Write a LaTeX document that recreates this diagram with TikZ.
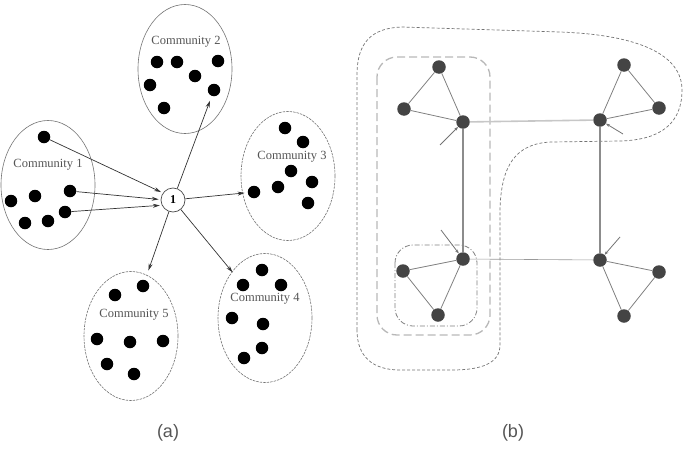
\documentclass[tikz,border=0pt]{standalone}
\usepackage{fontspec}
\setmainfont{Liberation Serif}
\newfontfamily\lsans{Liberation Sans}
\usetikzlibrary{arrows.meta,shapes.geometric}
\definecolor{dotb}{HTML}{444444}
\definecolor{labg}{HTML}{555555}
\tikzset{
  dot/.style={circle,fill=black,inner sep=0pt,minimum size=12.5pt},
  bdot/.style={circle,fill=dotb,inner sep=0pt,minimum size=13.5pt},
  ellsolid/.style={ellipse,draw=black!55,line width=0.6pt,minimum width=94pt,minimum height=129pt,inner sep=0pt},
  elldash/.style={ellsolid,dash pattern=on 2.5pt off 1pt},
  clabel/.style={font=\fontsize{12.5}{14}\selectfont,text=labg,inner sep=0pt},
  arr/.style={draw=black!80,line width=0.7pt,-{Stealth[length=7pt,width=4pt]}},
  onenode/.style={circle,draw=black!70,line width=0.7pt,fill=white,minimum size=24pt,inner sep=0pt,font=\fontsize{12}{14}\selectfont\bfseries},
  tri/.style={draw=black!50,line width=0.8pt},
  sarr/.style={draw=black!55,line width=0.8pt,-{Stealth[length=4pt,width=3pt]}},
  panlab/.style={font=\lsans\fontsize{18}{20}\selectfont,text=labg},
}
\begin{document}
\begin{tikzpicture}[x=1pt,y=-1pt]
\useasboundingbox (0,0) rectangle (683,450);
% ---------------- panel (a) ----------------
\node[ellsolid] (e1) at (48,185) {};
\node[ellsolid] (e2) at (185,69) {};
\node[elldash] (e3) at (288,176) {};
\node[elldash] (e4) at (265,318) {};
\node[elldash] (e5) at (131,336) {};
\node[clabel] (l1) at (48,165) {Community 1};
\node[clabel] (l2) at (186,42) {Community 2};
\node[clabel] (l3) at (292,157) {Community 3};
\node[clabel] (l4) at (265,299) {Community 4};
\node[clabel] (l5) at (134,315) {Community 5};
% community 1 dots
\node[dot] (c1a) at (44,137) {};
\node[dot] (c1b) at (70,191) {};
\node[dot] (c1c) at (35,196) {};
\node[dot] (c1d) at (11,201) {};
\node[dot] (c1e) at (65,212) {};
\node[dot] (c1f) at (25,223) {};
\node[dot] (c1g) at (48,221) {};
% community 2 dots
\node[dot] (c2a) at (157,62) {};
\node[dot] (c2b) at (177,62) {};
\node[dot] (c2c) at (218,61) {};
\node[dot] (c2d) at (195,76) {};
\node[dot] (c2e) at (150,85) {};
\node[dot] (c2f) at (214,90) {};
\node[dot] (c2g) at (164,108) {};
% community 3 dots
\node[dot] (c3a) at (285,128) {};
\node[dot] (c3b) at (303,142) {};
\node[dot] (c3c) at (291,171) {};
\node[dot] (c3d) at (312,182) {};
\node[dot] (c3e) at (278,187) {};
\node[dot] (c3f) at (254,192) {};
\node[dot] (c3g) at (308,203) {};
% community 4 dots
\node[dot] (c4a) at (262,270) {};
\node[dot] (c4b) at (243,285) {};
\node[dot] (c4c) at (281,285) {};
\node[dot] (c4d) at (232,318) {};
\node[dot] (c4e) at (263,324) {};
\node[dot] (c4f) at (262,348) {};
\node[dot] (c4g) at (244,358) {};
% community 5 dots
\node[dot] (c5a) at (143,286) {};
\node[dot] (c5b) at (115,295) {};
\node[dot] (c5c) at (97,339) {};
\node[dot] (c5d) at (130,342) {};
\node[dot] (c5e) at (163,341) {};
\node[dot] (c5f) at (107,364) {};
\node[dot] (c5g) at (134,374) {};
% central node
\node[onenode] (n1) at (173,200) {1};
\draw[arr,shorten >=2pt] (c1a) -- (n1.145);
\draw[arr,shorten >=2pt] (c1b) -- (n1.178);
\draw[arr,shorten >=2pt] (c1e) -- (n1.205);
\draw[arr,shorten >=5pt] (n1) -- (c2f);
\draw[arr,shorten >=3pt] (n1) -- (c3f);
\draw[arr,shorten >=10pt] (n1) -- (c5a);
\draw[arr,shorten >=10pt] (n1) -- (c4b);
\node[panlab] (pa) at (168,433) {(a)};
% ---------------- panel (b) ----------------
% contours
\draw[black!55,line width=0.7pt,dash pattern=on 3pt off 2pt]
  (357,330) -- (357,75) .. controls (357,42) and (372,28) .. (402,27)
  -- (560,32) .. controls (642,35) and (682,56) .. (682,90)
  .. controls (682,124) and (660,140) .. (620,141)
  -- (552,142) .. controls (516,143) and (501,165) .. (500,210)
  -- (500,345) .. controls (500,363) and (482,370) .. (452,370)
  -- (400,370) .. controls (372,370) and (357,356) .. (357,330) -- cycle;
\draw[black!28,line width=1.3pt,dash pattern=on 8pt off 4pt,rounded corners=20pt]
  (377,57) rectangle (490,335);
\draw[black!50,line width=0.8pt,dash pattern=on 5pt off 2pt on 1pt off 2pt,rounded corners=18pt]
  (395,245) rectangle (477,326);
% nodes
\node[bdot] (a1) at (439,67) {};
\node[bdot] (a2) at (404,109) {};
\node[bdot] (a3) at (463,122) {};
\node[bdot] (b1) at (624,65) {};
\node[bdot] (b2) at (659,108) {};
\node[bdot] (b3) at (600,120) {};
\node[bdot] (c1) at (463,259) {};
\node[bdot] (c2) at (403,271) {};
\node[bdot] (c3) at (438,315) {};
\node[bdot] (d1) at (600,260) {};
\node[bdot] (d2) at (659,272) {};
\node[bdot] (d3) at (624,316) {};
% edges
\draw[black!22,line width=1.6pt] (a3) -- (b3);
\draw[black!45,line width=1.2pt] (a3) -- (c1);
\draw[black!45,line width=1.2pt] (b3) -- (d1);
\draw[black!40,line width=0.6pt] (c1) -- (d1);
\draw[tri] (a1) -- (a2) -- (a3) -- (a1);
\draw[tri] (b1) -- (b2) -- (b3) -- (b1);
\draw[tri] (c1) -- (c2) -- (c3) -- (c1);
\draw[tri] (d1) -- (d2) -- (d3) -- (d1);
% small arrows
\coordinate (pa3) at (440,145);
\coordinate (pb3) at (623,134);
\coordinate (pc1) at (441,230);
\coordinate (pd1) at (620,237);
\draw[sarr] (pa3) -- (a3);
\draw[sarr] (pb3) -- (b3);
\draw[sarr] (pc1) -- (c1);
\draw[sarr] (pd1) -- (d1);
\node[panlab] (pb) at (513,433) {(b)};
\end{tikzpicture}
\end{document}
